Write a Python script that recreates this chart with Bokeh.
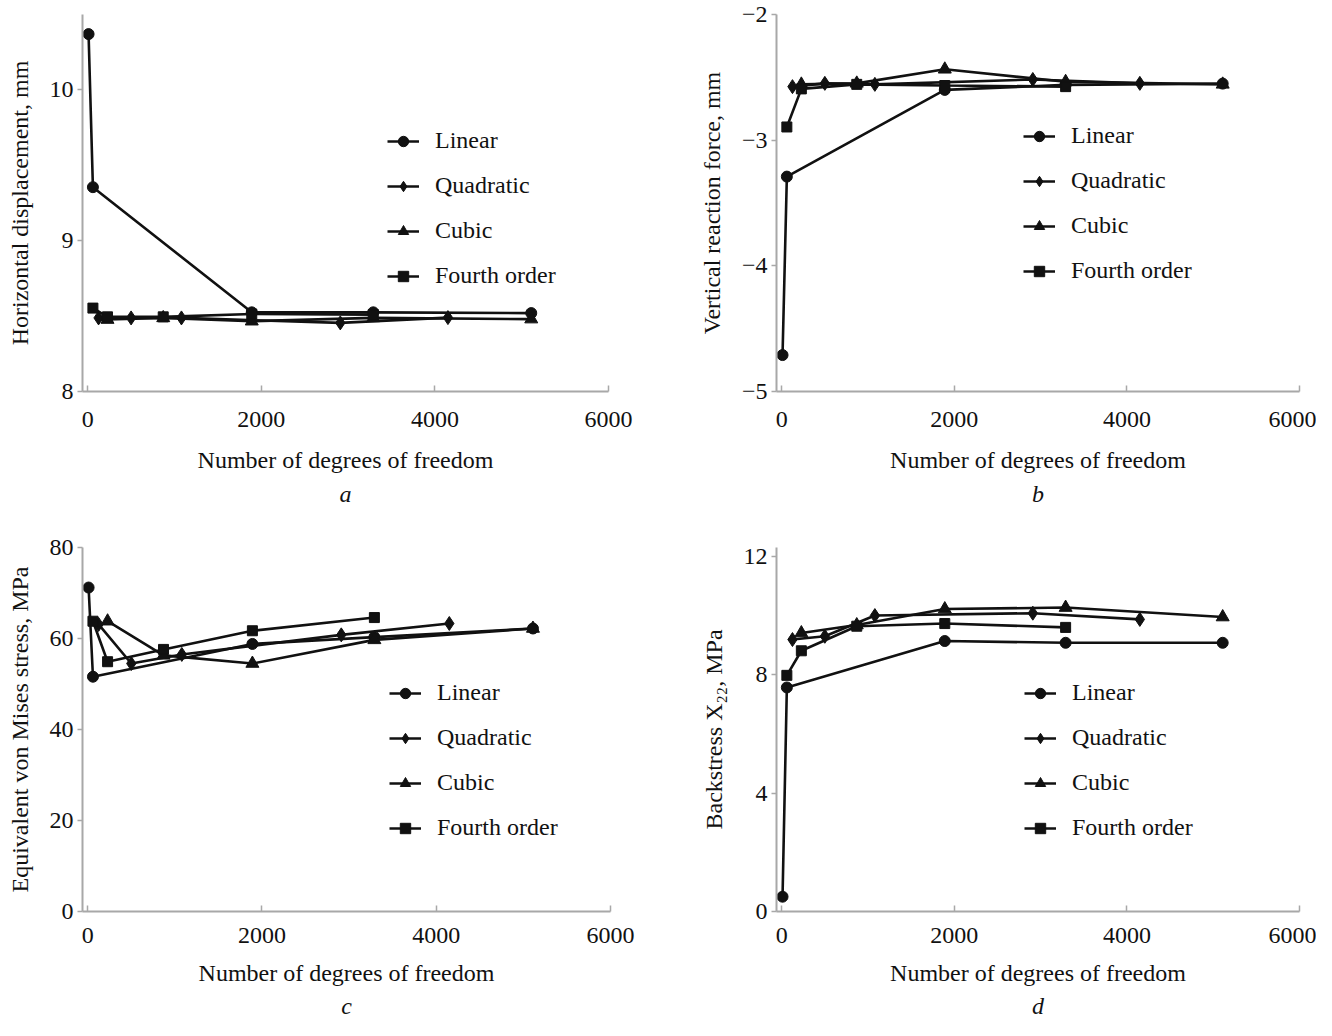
from bokeh.plotting import figure
from bokeh.layouts import column, row
from bokeh.models import Range1d, Legend, LegendItem, Title, FixedTicker, CustomJSTickFormatter
from bokeh.embed import file_html
from bokeh.resources import INLINE

# ---------------- data ----------------
dof_linear = [10, 60, 1890, 3290, 5110]
dof_quadratic = [125, 500, 1080, 2910, 4150]
dof_cubic = [228, 870, 1890, 3290, 5110]
dof_fourth = [60, 228, 870, 1890, 3290]

series_names = ["Linear", "Quadratic", "Cubic", "Fourth order"]
x_ticks = [0, 2000, 4000, 6000]

# a: horizontal displacement, mm
a_linear = [10.37, 9.355, 8.525, 8.525, 8.52]
a_quadratic = [8.488, 8.488, 8.488, 8.455, 8.49]
a_cubic = [8.477, 8.488, 8.466, 8.488, 8.48]
a_fourth = [8.553, 8.495, 8.495, 8.514, 8.51]
a_ticks = [8, 9, 10]

# b: vertical reaction force
b_linear = [-4.71, -3.29, -2.60, -2.56, -2.55]
b_quadratic = [-2.574, -2.548, -2.556, -2.517, -2.548]
b_cubic = [-2.556, -2.548, -2.436, -2.535, -2.556]
b_fourth = [-2.895, -2.592, -2.556, -2.565, -2.574]
b_ticks = [-5, -4, -3, -2]

# c: equivalent von Mises stress, MPa
c_linear = [71.2, 51.6, 58.8, 60.3, 62.2]
c_quadratic = [63.1, 54.5, 56.5, 60.8, 63.3]
c_cubic = [63.8, 56.3, 54.5, 59.7, 62.2]
c_fourth = [63.8, 54.9, 57.6, 61.7, 64.6]
c_ticks = [0, 20, 40, 60, 80]

# d: backstress X22, MPa
d_linear = [0.5, 7.57, 9.14, 9.08, 9.08]
d_quadratic = [9.19, 9.30, 10.0, 10.08, 9.87]
d_cubic = [9.41, 9.68, 10.22, 10.27, 9.95]
d_fourth = [7.98, 8.81, 9.64, 9.73, 9.60]
d_ticks = [0, 4, 8, 12]

FONT = "Liberation Serif"
FS = "24px"
AXIS_GRAY = "#a8a8a8"
INK = "#111111"

markers = [("circle", 11), ("diamond", 14), ("triangle", 13), ("square", 10)]


def make_fig(width, height, bl, br, bt, bb, y_start, y_end, yticks, ylabel,
             letter, ys_list, legend_loc, minus=False, letter_gap=6,
             tick_gap=20, title_gap=17):
    p = figure(width=width, height=height, output_backend="svg",
               toolbar_location=None, tools="",
               x_range=Range1d(-60, 6000), y_range=Range1d(y_start, y_end),
               min_border_left=bl, min_border_right=br,
               min_border_top=bt, min_border_bottom=bb)
    p.outline_line_color = None
    p.grid.visible = False
    p.background_fill_color = "white"
    p.border_fill_color = "white"

    xs_list = [dof_linear, dof_quadratic, dof_cubic, dof_fourth]
    items = []
    for name, xs, ys, (mk, sz) in zip(series_names, xs_list, ys_list, markers):
        lr = p.line(xs, ys, line_color=INK, line_width=2.6)
        sr = p.scatter(xs, ys, marker=mk, size=sz, fill_color=INK, line_color=INK)
        items.append(LegendItem(label=name, renderers=[lr, sr]))

    leg = Legend(items=items, location=legend_loc,
                 label_text_font=FONT, label_text_font_size=FS,
                 label_text_color=INK,
                 glyph_width=32, glyph_height=26, label_height=26,
                 label_standoff=16, spacing=18, padding=0, margin=0,
                 border_line_color=None, background_fill_alpha=0)
    p.add_layout(leg, "center")

    xa = p.xaxis[0]
    xa.ticker = FixedTicker(ticks=x_ticks)
    xa.axis_label = "Number of degrees of freedom"
    ya = p.yaxis[0]
    ya.ticker = FixedTicker(ticks=yticks)
    ya.axis_label = ylabel
    if minus:
        ya.formatter = CustomJSTickFormatter(
            code="return tick < 0 ? '\u2212' + Math.abs(tick) : String(tick);")

    for ax in (xa, ya):
        ax.axis_line_color = AXIS_GRAY
        ax.axis_line_width = 2
        ax.major_tick_line_color = AXIS_GRAY
        ax.major_tick_line_width = 1.5
        ax.minor_tick_line_color = None
        ax.major_label_text_font = FONT
        ax.major_label_text_font_size = FS
        ax.major_label_text_color = INK
        ax.axis_label_text_font = FONT
        ax.axis_label_text_font_size = FS
        ax.axis_label_text_font_style = "normal"
        ax.axis_label_text_color = INK
    xa.major_tick_in = 6
    xa.major_tick_out = 0
    xa.major_label_standoff = tick_gap
    xa.axis_label_standoff = title_gap
    ya.major_tick_in = 0
    ya.major_tick_out = 5
    ya.major_label_standoff = 4
    ya.axis_label_standoff = 14

    p.add_layout(Title(text=letter, align="center", text_font=FONT,
                       text_font_size=FS, text_font_style="italic",
                       text_color=INK, standoff=letter_gap), "below")
    return p


pa = make_fig(692, 512, 82, 84, 14, 121, 8, 10.5, a_ticks,
              "Horizontal displacement, mm", "a",
              [a_linear, a_quadratic, a_cubic, a_fourth], (305, 102))
pb = make_fig(624, 512, 84, 17, 14, 121, -5, -2, b_ticks,
              "Vertical reaction force, mm", "b",
              [b_linear, b_quadratic, b_cubic, b_fourth], (247, 107), minus=True)
pc = make_fig(692, 508, 82, 82, 35, 80, 0, 80, c_ticks,
              "Equivalent von Mises stress, MPa", "c",
              [c_linear, c_quadratic, c_cubic, c_fourth], (307, 70),
              letter_gap=4, tick_gap=16, title_gap=14)
pd = make_fig(624, 508, 84, 17, 35, 80, 0, 12.3, d_ticks,
              "Backstress X\u2082\u2082, MPa", "d",
              [d_linear, d_quadratic, d_cubic, d_fourth], (248, 70),
              letter_gap=4, tick_gap=16, title_gap=14)

layout = column(row(pa, pb), row(pc, pd))
open("out.html", "w").write(file_html(layout, INLINE))
